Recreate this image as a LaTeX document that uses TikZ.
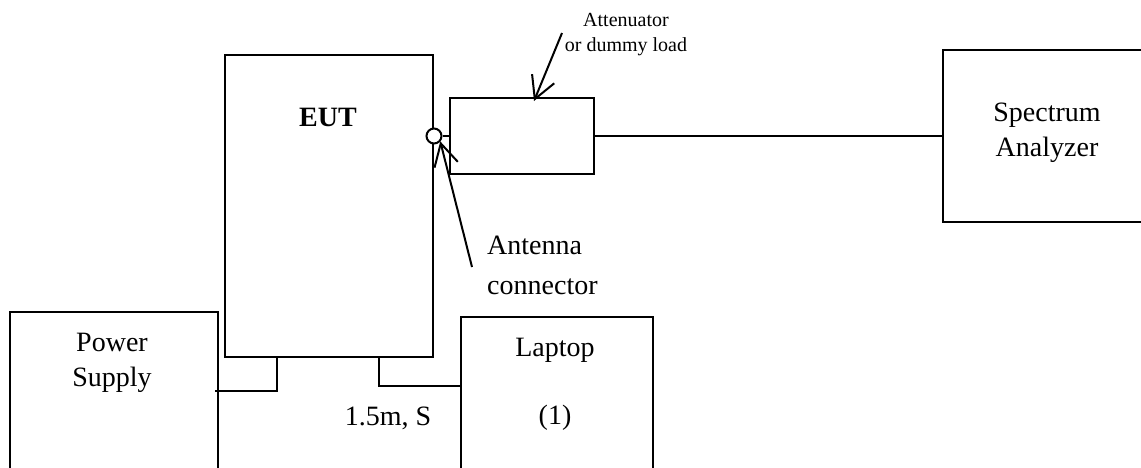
\documentclass[tikz,border=0pt]{standalone}
\usepackage{fontspec}
\setmainfont{Liberation Serif}
\usetikzlibrary{arrows.meta}

\tikzset{
  box/.style={draw, line width=2pt, inner sep=0pt, outer sep=0pt, anchor=north west},
  wire/.style={line width=2pt},
  pointer/.style={line width=2pt, -{Straight Barb[length=22pt, width=24pt, line width=2pt]}},
  txt/.style={inner sep=0pt, align=center, font=\fontsize{28}{35}\selectfont},
  smalltxt/.style={inner sep=0pt, align=center, font=\fontsize{20}{25}\selectfont}
}

\begin{document}
\begin{tikzpicture}[x=1pt, y=-1pt]
  \clip (0,0) rectangle (1141,467);

  % boxes
  \node[box, minimum width=208, minimum height=302] (eut) at (225,55) {};
  \node[box, minimum width=144, minimum height=76] (att) at (450,98) {};
  \node[box, minimum width=215, minimum height=172] (sa) at (943,50) {};
  \node[box, minimum width=208, minimum height=200] (ps) at (10,312) {};
  \node[box, minimum width=192, minimum height=200] (lap) at (461,317) {};
  \node[draw, circle, line width=2pt, fill=white, minimum size=15, inner sep=0pt] (ant) at (434,136) {};

  % texts
  \node[txt, font=\fontsize{28}{35}\selectfont\bfseries] (eutlbl) at (328,117) {EUT};
  \node[txt] (salbl) at (1047,133) {Spectrum\\Analyzer};
  \node[txt] (pslbl) at (112,363) {Power\\Supply};
  \node[txt] (laplbl) at (555,350) {Laptop};
  \node[txt] (lapnum) at (555,418) {(1)};
  \node[txt] (cable) at (388,418) {1.5m, S};
  \node[txt, align=left, anchor=west, font=\fontsize{28}{40}\selectfont] (antlbl) at (487,265) {Antenna\\connector};
  \node[smalltxt] (attlbl) at (626,35) {Attenuator\\or dummy load};

  % wiring
  \coordinate (pwr) at (277,391);
  \coordinate (usb) at (379,386);
  \draw[wire] (ant) -- (att);
  \draw[wire] (att) -- (sa);
  \draw[wire] (eut.south -| pwr) |- ([xshift=-3]ps.east |- pwr);
  \draw[wire] (eut.south -| usb) |- (lap.west |- usb);

  % pointers
  \coordinate (atttail) at (562,33);
  \coordinate (anttail) at (472,267);
  \draw[pointer] (atttail) -- ([xshift=12, yshift=-3]att.north);
  \draw[pointer] (anttail) -- ([xshift=2, yshift=2]ant.-60);
\end{tikzpicture}
\end{document}
